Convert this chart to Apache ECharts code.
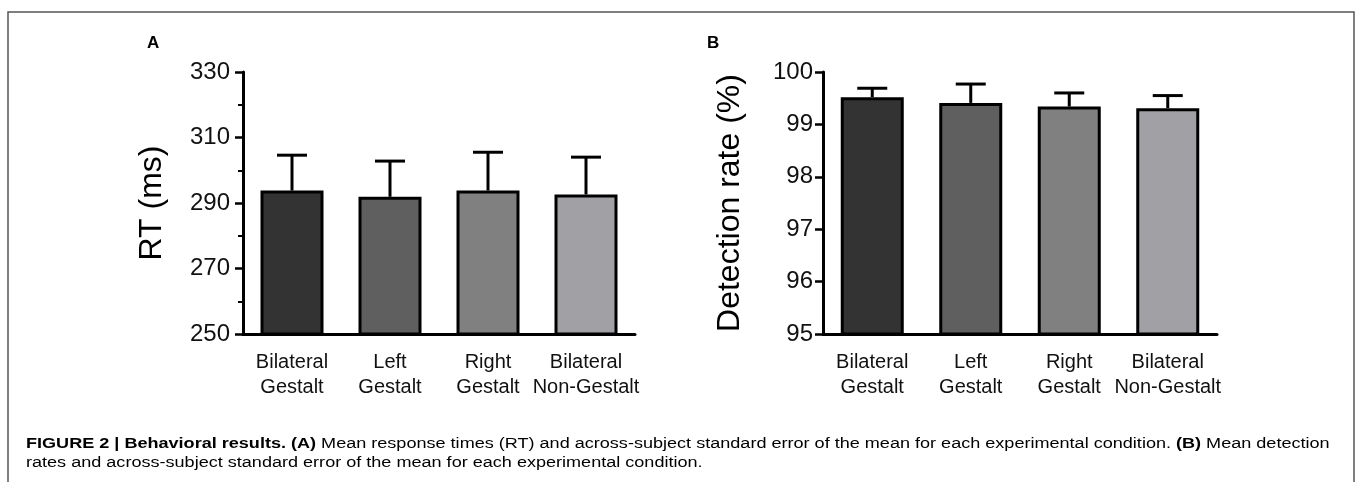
<!DOCTYPE html>
<html>
<head>
<meta charset="utf-8">
<script src="https://cdn.jsdelivr.net/npm/echarts@6/dist/echarts.min.js"></script>
<style>
html,body{margin:0;padding:0;background:#fff;}
#chart{width:1357px;height:482px;}
</style>
</head>
<body>
<div id="chart"></div>
<script>
// ---- data ----
var categories = ['Bilateral\nGestalt', 'Left\nGestalt', 'Right\nGestalt', 'Bilateral\nNon-Gestalt'];
var barColors = ['#333333', '#5f5f5f', '#808080', '#a1a1a5'];
var rtMean = [293.8, 291.9, 293.8, 292.6];
var rtSem = [10.8, 10.9, 11.7, 11.4];
var detMean = [99.52, 99.41, 99.34, 99.31];
var detSem = [0.17, 0.36, 0.26, 0.24];
var rtTicks = { min: 250, max: 330, interval: 20 };
var detTicks = { min: 95, max: 100, interval: 1 };

var FONT = '"Liberation Sans", Arial, Helvetica, sans-serif';

function barData(means) {
  return means.map(function (v, i) {
    return { value: v, itemStyle: { color: barColors[i] } };
  });
}
function errData(means, sems) {
  return means.map(function (v, i) { return [i, v, v + sems[i]]; });
}
function errRender(params, api) {
  var base = api.coord([api.value(0), api.value(1)]);
  var top = api.coord([api.value(0), api.value(2)]);
  var half = 15;
  var style = { stroke: '#000', lineWidth: 3, fill: null };
  return {
    type: 'group',
    children: [
      { type: 'line', shape: { x1: base[0], y1: base[1], x2: top[0], y2: top[1] }, style: style },
      { type: 'line', shape: { x1: top[0] - half, y1: top[1], x2: top[0] + half, y2: top[1] }, style: style }
    ]
  };
}

function xAxis(gi) {
  return {
    type: 'category', gridIndex: gi, data: categories,
    axisLine: { lineStyle: { color: '#000', width: 3 } },
    axisTick: { show: false },
    axisLabel: { interval: 0, color: '#111', fontFamily: FONT, fontSize: 20, lineHeight: 25, margin: 16 }
  };
}
function yAxis(gi, t, name, gap, minor, lm) {
  return {
    type: 'value', gridIndex: gi, min: t.min, max: t.max, interval: t.interval,
    name: name, nameLocation: 'middle', nameGap: gap, nameRotate: 90,
    nameTextStyle: { color: '#000', fontFamily: FONT, fontSize: 32 },
    axisLine: { show: true, lineStyle: { color: '#000', width: 3 } },
    axisTick: { show: true, length: 8, lineStyle: { color: '#000', width: 2.5 } },
    minorTick: { show: minor, splitNumber: 2, length: 5, lineStyle: { color: '#000', width: 2 } },
    splitLine: { show: false },
    axisLabel: { color: '#111', fontFamily: FONT, fontSize: 24, margin: lm }
  };
}

var caption1 = [
  '{b|FIGURE 2 | Behavioral results. (A)}',
  '{n| Mean response times (RT) and across-subject standard error of the mean for each experimental condition. }',
  '{b|(B)}',
  '{n| Mean detection}'
].join('');
var caption2 = '{n|rates and across-subject standard error of the mean for each experimental condition.}';
var capRich = {
  b: { fontFamily: FONT, fontSize: 14, fontWeight: 'bold', color: '#222' },
  n: { fontFamily: FONT, fontSize: 14, color: '#333' }
};
var capScale = 1.29;

var chart = echarts.init(document.getElementById('chart'), null, { renderer: 'canvas' });
chart.setOption({
  animation: false,
  backgroundColor: '#fff',
  grid: [
    { left: 243, top: 72, width: 392, height: 262 },
    { left: 823, top: 72, width: 394, height: 262 }
  ],
  xAxis: [xAxis(0), xAxis(1)],
  yAxis: [
    yAxis(0, rtTicks, 'RT (ms)', 75, true, 13),
    yAxis(1, detTicks, 'Detection rate (%)', 77, false, 10)
  ],
  series: [
    { type: 'custom', xAxisIndex: 0, yAxisIndex: 0, data: errData(rtMean, rtSem), renderItem: errRender, z: 1, encode: { x: 0, y: [1, 2] } },
    { type: 'bar', xAxisIndex: 0, yAxisIndex: 0, data: barData(rtMean), barWidth: 63, itemStyle: { borderColor: '#000', borderWidth: 3 }, z: 2 },
    { type: 'custom', xAxisIndex: 1, yAxisIndex: 1, data: errData(detMean, detSem), renderItem: errRender, z: 1, encode: { x: 0, y: [1, 2] } },
    { type: 'bar', xAxisIndex: 1, yAxisIndex: 1, data: barData(detMean), barWidth: 63, itemStyle: { borderColor: '#000', borderWidth: 3 }, z: 2 }
  ],
  graphic: [
    { type: 'rect', shape: { x: 8, y: 12, width: 1346, height: 500 }, style: { fill: null, stroke: '#555', lineWidth: 1.5 }, silent: true },
    { type: 'text', x: 147, y: 35, style: { text: 'A', fontFamily: FONT, fontSize: 17, fontWeight: 'bold', fill: '#000' } },
    { type: 'text', x: 707, y: 35, style: { text: 'B', fontFamily: FONT, fontSize: 17, fontWeight: 'bold', fill: '#000' } },
    { type: 'text', x: 26, y: 437, scaleX: capScale, style: { text: caption1, rich: capRich } },
    { type: 'text', x: 26, y: 456, scaleX: capScale, style: { text: caption2, rich: capRich } }
  ]
});
</script>
</body>
</html>
